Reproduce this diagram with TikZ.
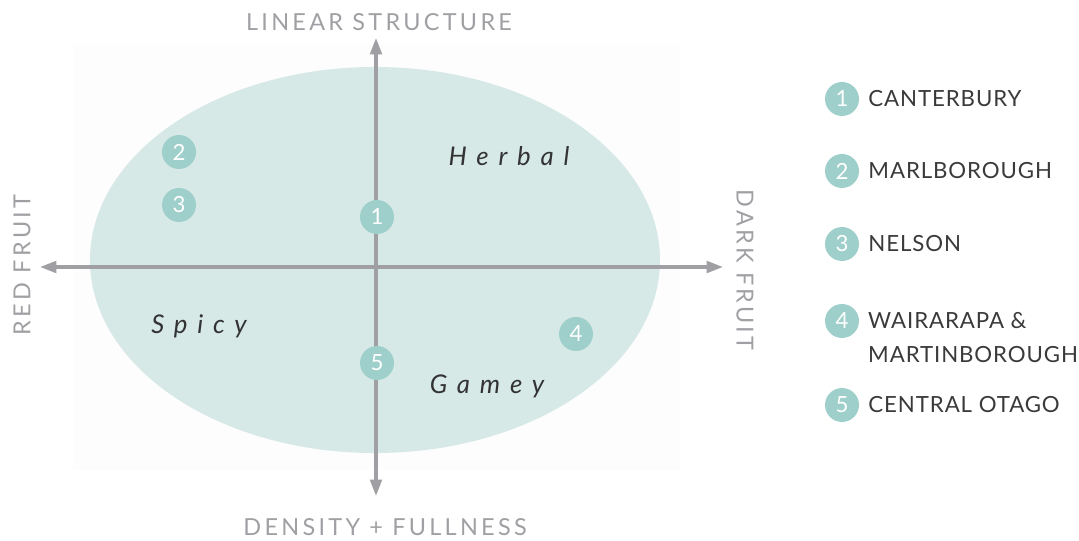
\documentclass[tikz,border=0pt]{standalone}
\usepackage{fontspec}
\setmainfont{Lato}
\newfontfamily\polefont[LetterSpace=14]{Lato}
\newfontfamily\tastefont[LetterSpace=38]{Lato}
\newfontfamily\entryfont[LetterSpace=4]{Lato}
\usetikzlibrary{arrows.meta,positioning}

\definecolor{axisgray}{HTML}{A0A0A4}
\definecolor{blobfill}{HTML}{D6E9E7}
\definecolor{dotfill}{HTML}{9ECFCA}
\definecolor{legendtext}{HTML}{3A3A3A}

\begin{document}
\begin{tikzpicture}[x=0.03cm,y=-0.03cm,
  region/.style={circle,fill=dotfill,text=white,inner sep=0pt,minimum size=1.02cm,
    font=\fontsize{19}{19}\selectfont},
  axis/.style={draw=axisgray,line width=2.6pt,
    {Triangle[length=14pt,width=10pt]}-{Triangle[length=14pt,width=10pt]}},
  pole/.style={text=axisgray,inner sep=0pt,font=\polefont\fontsize{20}{20}\selectfont},
  taste/.style={text=black!80,inner sep=0pt,font=\tastefont\itshape\fontsize{22}{22}\selectfont},
  entry/.style={text=legendtext,inner sep=0pt,align=left,font=\entryfont\fontsize{19}{29}\selectfont}]

\useasboundingbox (0,0) rectangle (1079,541);

% faint panel and the taste ellipse
\fill[black!0.6] (73,45) rectangle (680,470);
\fill[blobfill] (375,260) ellipse [x radius=8.55cm, y radius=5.79cm];

% axes
\coordinate (top) at (376,38);
\coordinate (bottom) at (376,496);
\coordinate (left) at (40,267);
\coordinate (right) at (723,267);
\path[axis] (bottom) -- (top);
\path[axis] (left) -- (right);

\node[pole] (linear) at (379,22) {LINEAR STRUCTURE};
\node[pole] (density) at (385,527) {DENSITY + FULLNESS};
\node[pole,rotate=90] (red) at (22,265) {RED FRUIT};
\node[pole,rotate=-90] (dark) at (745,270) {DARK FRUIT};

% taste words
\node[taste] (herbal) at (509,156) {Herbal};
\node[taste] (spicy) at (199,326) {Spicy};
\node[taste] (gamey) at (487,386) {Gamey};

% regions on the chart
\node[region] (r1) at (377,217) {1};
\node[region] (r2) at (179,152) {2};
\node[region] (r3) at (179,205) {3};
\node[region] (r4) at (576,334) {4};
\node[region] (r5) at (377,363) {5};

% legend
\node[region] (l1) at (842,99) {1};
\node[region] (l2) at (842,171) {2};
\node[region] (l3) at (842,244) {3};
\node[region] (l4) at (842,321) {4};
\node[region] (l5) at (842,405) {5};

\node[entry,right=0.27cm of l1] (t1) {CANTERBURY};
\node[entry,right=0.27cm of l2] (t2) {MARLBOROUGH};
\node[entry,right=0.27cm of l3] (t3) {NELSON};
\node[entry,anchor=west] (t4) at (868,338) {WAIRARAPA \&\\MARTINBOROUGH};
\node[entry,right=0.27cm of l5] (t5) {CENTRAL OTAGO};

\end{tikzpicture}
\end{document}
